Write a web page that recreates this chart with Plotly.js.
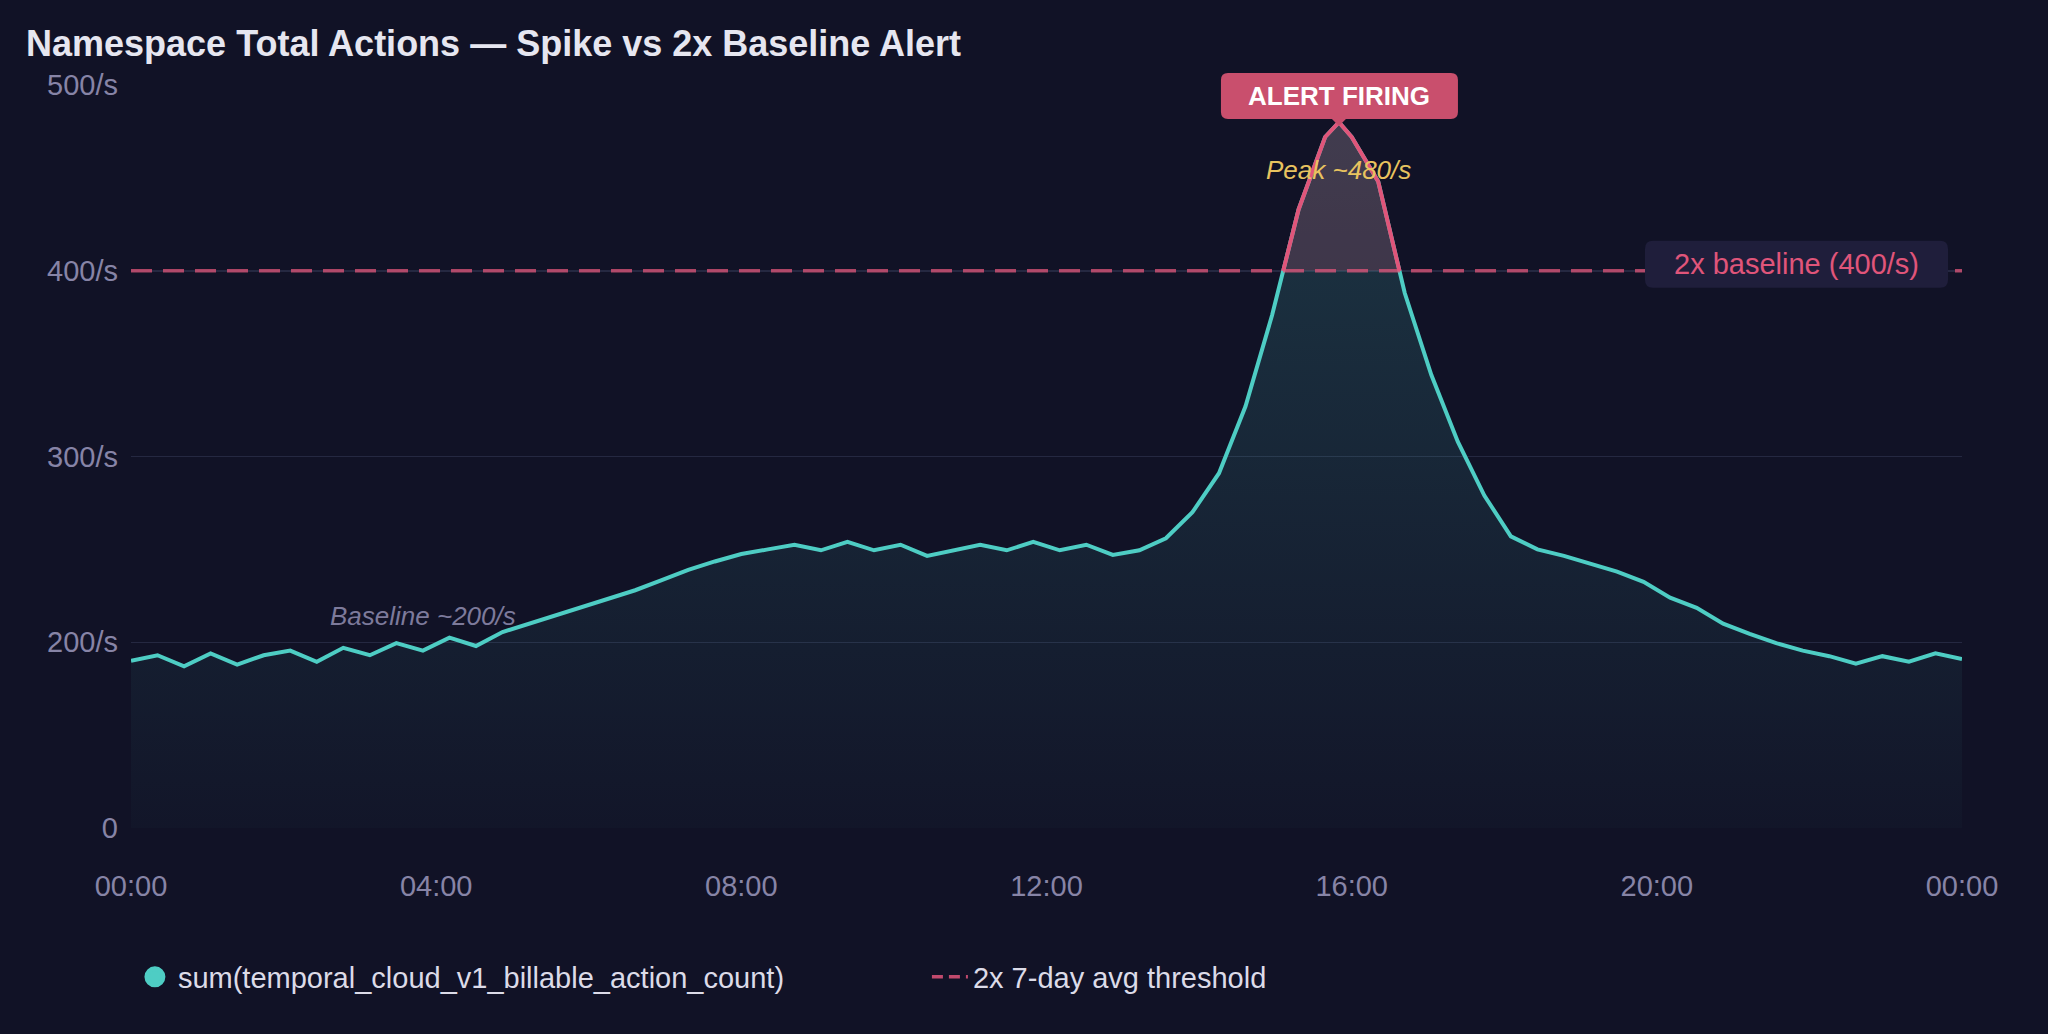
<!DOCTYPE html>
<html>
<head>
<meta charset="utf-8">
<script src="https://cdn.plot.ly/plotly-3.0.1.min.js"></script>
<style>
  html, body { margin: 0; padding: 0; background: #111226; }
  #chart { width: 2048px; height: 1034px; }
</style>
</head>
<body>
<div id="chart"></div>
<script>
// ---- data ----
// regular samples over the day (00:00 .. 24:00, equally spaced)
const gridValues = [190,193,187,194,188,193,195.5,189.5,197,193,
  199.5,195.5,202.5,198,205.5,210,214.5,219,223,228,
  233.5,239,243.5,247.5,250,252.5,249.5,254,249.5,252.5,
  246.5,249.5,252.5,249.5,254,249.5,252.5,247,249.5,256,
  270,291,327,376,433,472,472,448,388,344,
  308,279,257,250,246.5,242,238,232.5,224,218.5,
  210,204.5,199.5,195.5,192.5,188.5,192.5,189.5,194,191];
// extra sample at the spike maximum (15:50)
const peakHour = 15 + 50 / 60;
const peakValue = 480;

const tickHours = [0,4,8,12,16,20,24];
const tickLabels = ['00:00','04:00','08:00','12:00','16:00','20:00','00:00'];
const yTickVals = [100,200,300,400,500];
const yTickText = ['0','200/s','300/s','400/s','500/s'];
const threshold = 400;
const seriesName = 'sum(temporal_cloud_v1_billable_action_count)';
const thresholdName = '2x 7-day avg threshold';

// build the time series (hours) with the peak sample in its place
const hours = [], values = [];
const step = 24 / (gridValues.length - 1);
gridValues.forEach((v, i) => {
  const t = i * step;
  if (hours.length && hours[hours.length - 1] < peakHour && t > peakHour) {
    hours.push(peakHour); values.push(peakValue);
  }
  hours.push(t); values.push(v);
});

// peak position from the data
let iMax = 0;
values.forEach((v, i) => { if (v > values[iMax]) iMax = i; });
const peakX = hours[iMax];

const FONT = 'Liberation Sans, Arial, Helvetica, sans-serif';
const TEAL = '#4ecdc4';
const PINK = '#e0557a';
const BG = '#111226';

function roundRect(L, R, T, B, r, pointer) {
  let p = `M${L+r},${T} H${R-r} Q${R},${T} ${R},${T-r} V${B+r} Q${R},${B} ${R-r},${B}`;
  if (pointer) p += ` H${pointer.w} L0,${pointer.tip} L${-pointer.w},${B}`;
  p += ` H${L+r} Q${L},${B} ${L},${B+r} V${T-r} Q${L},${T} ${L+r},${T} Z`;
  return p;
}

const traces = [
  {
    x: hours, y: values, type: 'scatter', mode: 'lines',
    line: { color: TEAL, width: 4 },
    fill: 'tozeroy',
    fillcolor: 'rgba(78,205,196,0.08)',
    fillgradient: { type: 'vertical', start: 100, stop: 472,
      colorscale: [[0, 'rgba(78,205,196,0.02)'], [1, 'rgba(78,205,196,0.19)']] },
    showlegend: false, hoverinfo: 'skip'
  },
  {
    x: [hours[0], hours[hours.length-1]], y: [threshold, threshold],
    type: 'scatter', mode: 'lines',
    line: { color: 'rgba(224,85,122,0.75)', width: 3.5, dash: '21px,11px' },
    showlegend: false, hoverinfo: 'skip'
  },
  {
    x: hours, y: values, type: 'scatter', mode: 'lines', yaxis: 'y2',
    line: { color: PINK, width: 4 },
    fill: 'tozeroy', fillcolor: 'rgba(224,85,122,0.19)',
    showlegend: false, hoverinfo: 'skip'
  },
  // legend entries
  {
    x: [null], y: [null], type: 'scatter', mode: 'markers',
    marker: { color: TEAL, size: 16, line: { color: TEAL, width: 5 } },
    name: seriesName, showlegend: true
  },
  {
    x: [null], y: [null], type: 'scatter', mode: 'lines',
    line: { color: 'rgba(224,85,122,0.85)', width: 3.5, dash: '11px,6px' },
    name: thresholdName, showlegend: true
  }
];

const layout = {
  width: 2048, height: 1034,
  paper_bgcolor: BG, plot_bgcolor: 'rgba(0,0,0,0)',
  margin: { l: 131, r: 86, t: 85, b: 206 },
  font: { family: FONT, color: '#8784a6' },
  title: {
    text: 'Namespace Total Actions — Spike vs 2x Baseline Alert',
    font: { family: FONT, size: 36, color: '#e6e6f0', weight: 'bold' },
    xref: 'container', yref: 'container',
    x: 26 / 2048, xanchor: 'left', y: 1 - 43 / 1034, yanchor: 'middle'
  },
  xaxis: {
    range: [0, 24], tickvals: tickHours, ticktext: tickLabels,
    showgrid: false, zeroline: false, showline: false, ticks: '',
    tickfont: { family: FONT, size: 29, color: '#8784a6' },
    ticklabelstandoff: 38, anchor: 'y', fixedrange: true
  },
  yaxis: {
    range: [100, 500], tickvals: yTickVals, ticktext: yTickText,
    showgrid: true, gridcolor: '#252841', gridwidth: 1.5,
    zeroline: false, showline: false, ticks: '',
    tickfont: { family: FONT, size: 29, color: '#8784a6' },
    ticklabelstandoff: 12, domain: [0, 1], fixedrange: true
  },
  yaxis2: {
    range: [threshold, 500], domain: [(threshold - 100) / 400, 1],
    anchor: 'x', visible: false, showgrid: false, zeroline: false, fixedrange: true
  },
  showlegend: true,
  legend: {
    orientation: 'h', x: 0.0005, xanchor: 'left', y: -0.2005, yanchor: 'middle',
    font: { family: FONT, size: 29, color: '#dcdbe8' },
    bgcolor: 'rgba(0,0,0,0)', itemwidth: 36, entrywidth: 744, entrywidthmode: 'pixels',
    traceorder: 'normal'
  },
  shapes: [
    {
      type: 'path', layer: 'above',
      xref: 'x', xsizemode: 'pixel', xanchor: peakX,
      yref: 'paper', ysizemode: 'pixel', yanchor: 1,
      path: roundRect(-118, 119, 12, -34, 7, { w: 7, tip: -41 }),
      fillcolor: '#c94f6d', line: { width: 0 }
    },
    {
      type: 'path', layer: 'above',
      xref: 'paper', xsizemode: 'pixel', xanchor: 1,
      yref: 'y', ysizemode: 'pixel', yanchor: threshold,
      path: roundRect(-317, -14, 30, -17, 8, null),
      fillcolor: '#1f1e3b', line: { width: 0 }
    }
  ],
  annotations: [
    {
      text: 'ALERT FIRING', xref: 'x', x: peakX, yref: 'paper', y: 1,
      yanchor: 'middle', yshift: -11, showarrow: false,
      font: { family: FONT, size: 26, color: '#ffffff', weight: 'bold' }
    },
    {
      text: 'Peak ~480/s', xref: 'x', x: peakX, yref: 'paper', y: 1,
      yanchor: 'middle', yshift: -85, showarrow: false,
      font: { family: FONT, size: 26, color: '#e8c35f', style: 'italic' }
    },
    {
      text: 'Baseline ~200/s', xref: 'x', x: 3.83, yref: 'y', y: 214,
      yanchor: 'middle', showarrow: false,
      font: { family: FONT, size: 26, color: '#7d7a9b', style: 'italic' }
    },
    {
      text: '2x baseline (400/s)', xref: 'paper', x: 1, xanchor: 'center', xshift: -165.5,
      yref: 'y', y: threshold, yanchor: 'middle', yshift: 7, showarrow: false,
      font: { family: FONT, size: 29, color: PINK }
    }
  ]
};

Plotly.newPlot('chart', traces, layout, { displayModeBar: false, staticPlot: true });
</script>
</body>
</html>
